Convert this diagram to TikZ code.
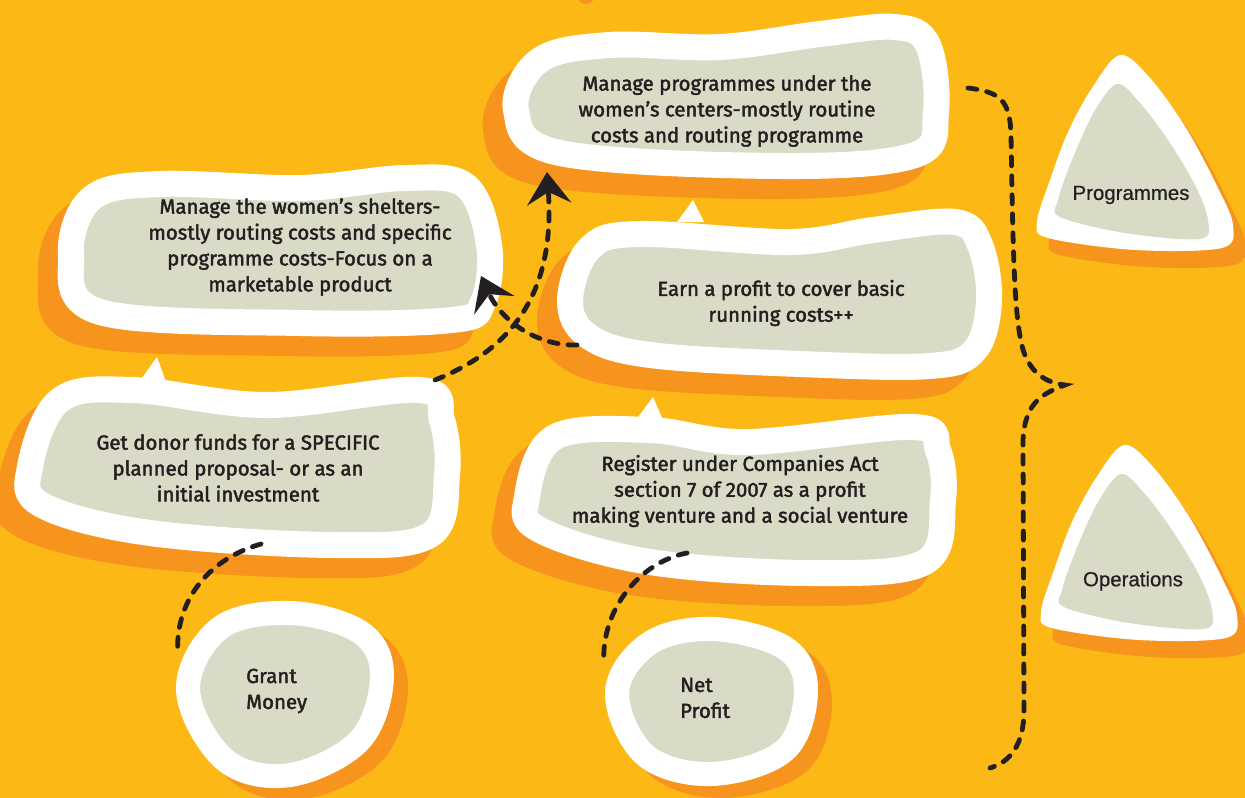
\documentclass[tikz,border=0pt]{standalone}
\usepackage{fontspec}
\setmainfont{Fira Sans}[FakeBold=2]
\newfontfamily\trifont{Liberation Sans}[FakeBold=0.6]
\usetikzlibrary{arrows.meta}
\definecolor{bgY}{RGB}{252,185,22}
\definecolor{shO}{RGB}{247,148,30}
\definecolor{blobG}{RGB}{217,219,198}
\definecolor{txt}{RGB}{35,31,32}
\newcommand\shadowblob[3]{\edef\tmpcmd{\noexpand\fill[shO,draw=shO,line width=#1,line join=round,shift={#2}] plot[smooth cycle,tension=0.6] coordinates {#3};}\tmpcmd}
\newcommand\faceblob[2]{\edef\tmpcmd{\noexpand\fill[blobG,draw=white,line width=#1,line join=round] plot[smooth cycle,tension=0.6] coordinates {#2};}\tmpcmd}
\def\shpA{(516,110)(540,60)(610,45)(720,47)(820,34)(895,27)(928,45)(936,112)(915,155)(780,166)(560,153)}
\def\shpB{(71,255)(92,198)(160,184)(300,188)(405,178)(466,186)(489,245)(483,302)(452,320)(300,323)(100,312)}
\def\shpC{(570,300)(590,248)(640,234)(790,242)(873,230)(955,222)(980,245)(989,300)(975,350)(930,366)(800,364)(650,355)(588,336)}
\def\shpD{(30,467)(60,400)(133,390)(267,405)(420,390)(442,420)(447,475)(430,535)(333,545)(150,533)(42,505)}
\def\shpE{(527,497)(555,437)(650,430)(747,442)(913,427)(938,450)(943,500)(925,562)(813,573)(650,562)(540,530)}
\def\shpF{(188,690)(220,628)(290,613)(360,632)(382,675)(360,740)(290,775)(225,760)}
\def\shpG{(617,692)(650,643)(713,629)(785,648)(806,690)(785,750)(712,774)(645,755)}
\def\triW{(1120,55)(1150,78)(1186,128)(1218,188)(1233,225)(1222,248)(1135,250)(1048,238)(1037,222)(1050,180)(1068,132)(1092,88)}
\def\triG{(1117,84)(1140,103)(1168,140)(1195,185)(1208,220)(1200,239)(1125,233)(1060,217)(1058,200)(1072,160)(1094,112)}
\newcommand\triangleblob[1]{\edef\tmpcmd{%
\noexpand\fill[shO,shift={(12,17)},shift={#1}] plot[smooth cycle,tension=0.55] coordinates {\triW};
\noexpand\fill[white,shift={#1}] plot[smooth cycle,tension=0.55] coordinates {\triW};
\noexpand\fill[blobG,shift={#1}] plot[smooth cycle,tension=0.55] coordinates {\triG};}\tmpcmd}
\tikzset{
  btxt/.style={text=txt,font=\fontsize{20.5}{26}\selectfont,align=center,inner sep=0pt},
  ltxt/.style={text=txt,font=\fontsize{20.5}{26}\selectfont,align=left,inner sep=0pt,anchor=west},
  ttxt/.style={text=txt,font=\trifont\fontsize{20.5}{24}\selectfont,inner sep=0pt},
  dashline/.style={draw=txt,line width=4.8bp,dash pattern=on 9bp off 10bp,line cap=round},
  arrowline/.style={dashline,-{Stealth[length=32bp,width=44bp,inset=12bp]}},
  pointer/.style={fill=white}
}
\begin{document}
\begin{tikzpicture}[x=1bp,y=-1bp]
\fill[bgY] (0,0) rectangle (1245,798);
\useasboundingbox (0,0) rectangle (1245,798);
\fill[shO] (586,0) ellipse (7 and 4);
% shadows
\shadowblob{26bp}{(-20,20)}{\shpA}
\shadowblob{26bp}{(-20,20)}{\shpB}
\shadowblob{26bp}{(-20,20)}{\shpC}
\shadowblob{26bp}{(-20,20)}{\shpD}
\shadowblob{26bp}{(-20,20)}{\shpE}
\shadowblob{24bp}{(14,12)}{\shpF}
\shadowblob{24bp}{(14,12)}{\shpG}
% pointers
\fill[pointer] (677,222) -- (693,200) -- (704,222) -- cycle;
\fill[pointer] (139,382) -- (157,357) -- (166,382) -- cycle;
\fill[pointer] (636,420) -- (653,397) -- (663,420) -- cycle;
% faces
\faceblob{26bp}{\shpA}
\faceblob{26bp}{\shpB}
\faceblob{26bp}{\shpC}
\faceblob{26bp}{\shpD}
\faceblob{26bp}{\shpE}
\faceblob{24bp}{\shpF}
\faceblob{24bp}{\shpG}
\triangleblob{(0,0)}
\triangleblob{(4,390)}
% texts
\node[btxt] (centers) at (727,111) {Manage programmes under the\\women’s centers-mostly routine\\costs and routing programme};
\node[btxt] (shelters) at (300,247) {Manage the women’s shelters-\\mostly routing costs and specific\\programme costs-Focus on a\\marketable product};
\node[btxt] (earn) at (781,303) {Earn a profit to cover basic\\running costs++};
\node[btxt] (donor) at (238,468) {Get donor funds for a SPECIFIC\\planned proposal- or as an\\initial investment};
\node[btxt] (register) at (740,491) {Register under Companies Act\\section 7 of 2007 as a profit\\making venture and a social venture};
\node[ltxt] (grant) at (246,691) {Grant\\Money};
\node[ltxt] (net) at (680,698) {Net\\Profit};
\node[ttxt] (prog) at (1131,195) {Programmes};
\node[ttxt] (oper) at (1133,581) {Operations};
% connector ends
\coordinate (donorOut) at (435,380);
\coordinate (centersIn) at (547,172);
\coordinate (earnOut) at (577,345);
\coordinate (sheltersIn) at (481,276);
\coordinate (donorBot) at (261,544);
\coordinate (grantTop) at (178,655);
\coordinate (registerBot) at (687,553);
\coordinate (netTop) at (604,665);
\coordinate (brTop) at (968,88);
\coordinate (brTip) at (1065,385);
\coordinate (brBot) at (990,768);
% connectors
\draw[arrowline] (donorOut) .. controls (505,352) and (556,300) .. (centersIn);
\draw[arrowline] (earnOut) .. controls (538,346) and (502,322) .. (sheltersIn);
\draw[dashline] (donorBot) .. controls (205,560) and (174,605) .. (grantTop);
\draw[dashline] (registerBot) .. controls (640,562) and (600,610) .. (netTop);
\draw[dashline] (brTop) .. controls (1000,92) and (1010,100) .. (1011,135)
  .. controls (1013,250) and (1014,330) .. (1025,355)
  .. controls (1033,375) and (1048,383) .. (brTip)
  .. controls (1045,393) and (1025,400) .. (1023,440)
  -- (1024,710) .. controls (1024,745) and (1010,762) .. (brBot);
\end{tikzpicture}
\end{document}
